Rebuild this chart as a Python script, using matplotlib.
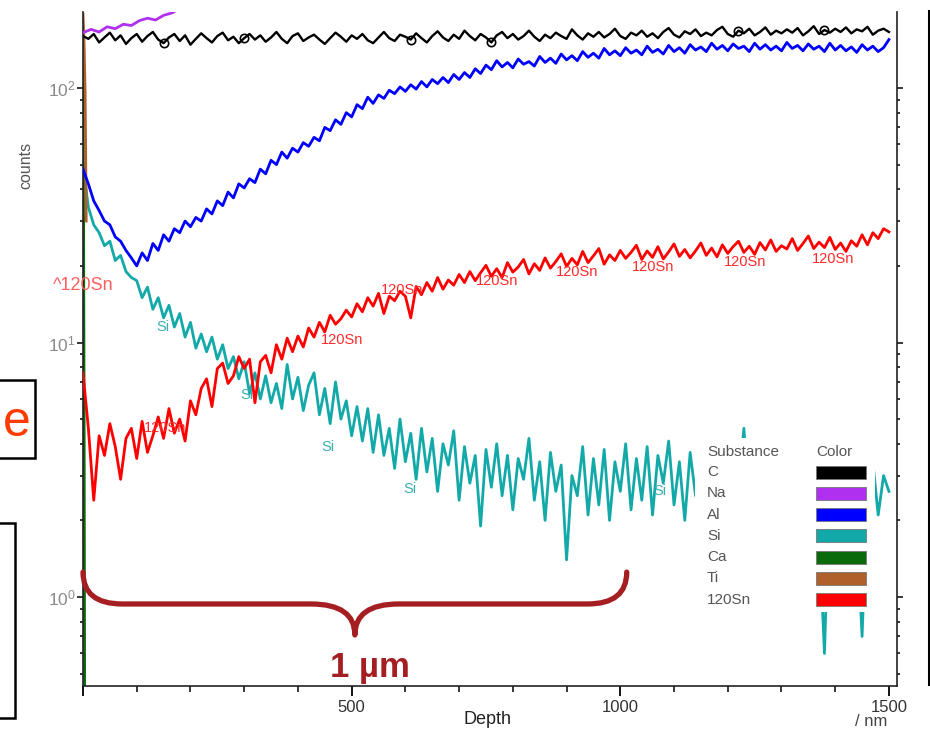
import numpy as np
import matplotlib
matplotlib.use('Agg')
import matplotlib.pyplot as plt
import matplotlib.transforms as mtransforms
from matplotlib.patches import Rectangle, PathPatch
from matplotlib.path import Path
from matplotlib.lines import Line2D
from matplotlib.ticker import MultipleLocator, NullFormatter

plt.rcParams['font.family'] = ['Liberation Sans', 'DejaVu Sans']

# Шаг по глубине, нм
step = 10

# Профили (counts), точки через 10 нм от 0 до 1500 нм
c_counts = [160, 156, 163, 151, 158, 165, 154, 161, 149, 157, 163, 152, 160, 166, 155, 150, 158, 163, 153, 161,
            148, 156, 164, 157, 151, 160, 165, 154, 159, 150, 157, 163, 155, 161, 152, 158, 166, 156, 150, 160,
            164, 153, 158, 162, 155, 149, 157, 165, 159, 152, 161, 156, 163, 154, 150, 158, 166, 157, 153, 162,
            159, 155, 164, 157, 151, 160, 167, 158, 153, 162, 156, 168, 160, 154, 163, 158, 151, 161, 166, 157,
            163, 155, 160, 168, 159, 153, 162, 157, 165, 160, 156, 170, 161, 155, 164, 159, 166, 158, 163, 171,
            160, 156, 165, 161, 168, 159, 164, 157, 166, 172, 162, 158, 167, 163, 170, 160, 165, 161, 169, 174,
            163, 159, 168, 164, 171, 161, 166, 173, 162, 168, 164, 170, 165, 172, 161, 167, 175, 163, 169, 165,
            171, 166, 173, 164, 170, 167, 174, 162, 168, 171, 166]

al_counts = [48, 42, 36, 33, 30, 29, 26, 25, 23, 21.5,
             20, 22.5, 21, 24.5, 23, 26.5, 25, 28, 27, 30,
             28.5, 31, 30, 33.5, 32, 36, 34.5, 39, 37, 42,
             40.5, 44, 42.5, 48, 46, 52, 50, 56, 53, 58,
             56, 61, 59, 64, 62, 70, 68, 75, 72, 80,
             77, 86, 83, 92, 87, 94, 91, 98, 95, 101,
             97, 103, 99, 106, 101, 108, 104, 110, 105, 113,
             108, 115, 110, 119, 114, 123, 118, 128, 121, 126,
             120, 130, 124, 127, 122, 133, 126, 131, 125, 136,
             129, 134, 128, 139, 132, 137, 131, 143, 135, 140,
             134, 144, 137, 141, 135, 146, 138, 142, 136, 147,
             139, 144, 137, 148, 141, 145, 139, 150, 142, 147,
             140, 149, 143, 146, 139, 150, 142, 148, 141, 146,
             140, 151, 143, 147, 140, 149, 142, 146, 139, 150,
             141, 147, 140, 145, 138, 148, 141, 146, 139, 144,
             155]

si_counts = [50, 34, 29, 27, 24, 25, 21, 22, 19, 18,
             17.5, 15, 16.5, 13.5, 15, 12.5, 14, 11.5, 13, 10.5,
             12, 9.5, 10.8, 9.2, 10.5, 8.6, 9.8, 7.9, 8.8, 7.2,
             8.4, 6.3, 7.6, 6.0, 7.4, 5.8, 6.9, 5.5, 8.2, 6.0,
             7.3, 5.4, 6.8, 7.6, 5.2, 6.6, 4.8, 7.0, 5.0, 5.9,
             4.3, 5.6, 4.1, 5.5, 3.7, 5.2, 3.6, 4.6, 3.2, 5.0,
             3.4, 4.4, 2.9, 4.6, 3.1, 4.2, 2.6, 4.0, 3.3, 4.5,
             2.4, 3.9, 2.8, 3.6, 1.9, 3.8, 2.7, 4.0, 2.5, 3.6,
             2.2, 3.5, 2.9, 4.2, 2.4, 3.4, 2.0, 3.7, 2.6, 3.3,
             1.4, 3.0, 2.5, 3.9, 2.1, 3.5, 2.3, 3.8, 2.0, 3.4,
             2.6, 4.0, 2.2, 3.5, 2.4, 3.9, 2.1, 3.6, 2.8, 4.1,
             2.3, 3.4, 2.0, 3.7, 2.5, 3.2, 2.2, 3.6, 2.4, 3.3,
             2.1, 3.5, 2.6, 4.6, 2.3, 3.2, 2.0, 3.4, 2.5, 3.1,
             2.2, 3.6, 2.4, 3.0, 2.1, 3.3, 2.6, 1.8, 0.6, 2.9,
             2.2, 3.2, 2.4, 3.0, 1.9, 0.7, 2.6, 3.4, 2.1, 3.0,
             2.6]

sn_counts = [7.6, 4.6, 2.4, 4.3, 3.6, 4.8, 3.9, 2.9, 4.2, 4.6,
             3.5, 4.9, 3.7, 4.3, 5.1, 4.2, 5.5, 4.4, 5.0, 4.1,
             5.9, 5.2, 6.6, 7.2, 5.6, 7.9, 8.3, 6.9, 7.4, 8.8,
             7.9, 8.6, 5.8, 8.4, 8.9, 7.6, 9.8, 8.6, 10.4, 9.2,
             10.6, 9.6, 11.4, 10.5, 12.0, 11.0, 12.8, 11.8, 12.4, 13.4,
             12.6, 14.2, 13.2, 15.0, 13.9, 15.6, 13.0, 15.2, 14.6, 15.9,
             15.2, 12.5, 16.6, 15.4, 17.2, 15.9, 18.0, 16.2, 17.6, 16.8,
             18.5, 17.2, 19.0, 17.5, 18.8, 20.1, 18.2, 19.5, 18.0, 20.6,
             18.9, 19.8, 21.2, 18.6, 20.4, 19.2, 21.5, 19.6, 20.8, 22.3,
             19.9, 21.4, 20.2, 22.8, 20.6, 21.9, 23.4, 20.3, 22.1, 21.0,
             23.0, 21.4, 22.6, 24.1, 21.2, 22.9, 21.6, 23.8, 21.3, 22.7,
             24.4, 21.8, 23.2, 21.5, 22.9, 24.6, 22.0, 23.5, 21.7, 24.2,
             22.4, 23.8, 25.0, 22.6, 23.9, 22.2, 24.7, 23.1, 25.3, 22.8,
             24.0, 23.3, 25.6, 23.0, 24.5, 26.2, 23.4, 24.8, 23.6, 25.9,
             23.2, 24.6, 22.8, 25.1, 23.9, 26.5, 24.2, 27.0, 25.6, 28.0,
             27.2]

# Короткие профили у поверхности
na_depth = [0, 15, 30, 45, 60, 75, 90, 105, 120, 135, 150, 165, 180, 200]
na_counts = [165, 170, 166, 174, 171, 178, 176, 184, 188, 185, 193, 197, 205, 215]
ca_depth = [0, 1, 2, 3]
ca_counts = [120, 35, 6, 0.45]
ti_depth = [0, 2, 4, 6]
ti_counts = [195, 150, 95, 30]

substances = ['C', 'Na', 'Al', 'Si', 'Ca', 'Ti', '120Sn']
colors = ['#000000', '#B030F0', '#0000FF', '#14A9A9', '#0B6B0B', '#B0602A', '#FF0000']

# Маркеры-кружки на кривой C
c_marks = [15, 30, 61, 76, 122, 138]

# Подписи на кривых
sn_label_depth = [153, 482, 594, 771, 919, 1061, 1232, 1396]
sn_label_counts = [4.6, 10.2, 16.1, 17.4, 18.9, 19.8, 20.7, 21.3]
si_label_depth = [149, 305, 456, 609, 1074]
si_label_counts = [11.5, 6.2, 3.9, 2.66, 2.6]

x_ticks = [0, 500, 1000, 1500]
x_tick_labels = ['', '500', '1000', '1500']

fig = plt.figure(figsize=(9.3, 7.29), dpi=100)
ax = fig.add_axes([83 / 930, 43 / 729, 814 / 930, 674 / 729])
ax.set_yscale('log')
ax.set_xlim(0, 1515)
ax.set_ylim(0.447, 198.9)


def depth_of(vals):
    return np.arange(len(vals)) * step


lw = 2.0
ax.plot(depth_of(si_counts), si_counts, color=colors[3], lw=lw, zorder=2)
ax.plot(ca_depth, ca_counts, color=colors[4], lw=lw, zorder=2)
ax.plot(ti_depth, ti_counts, color=colors[5], lw=lw, zorder=2)
ax.plot(depth_of(sn_counts), sn_counts, color=colors[6], lw=lw, zorder=3)
ax.plot(depth_of(al_counts), al_counts, color=colors[2], lw=lw, zorder=3)
ax.plot(na_depth, na_counts, color=colors[1], lw=lw, zorder=3)
ax.plot(depth_of(c_counts), c_counts, color=colors[0], lw=1.7, zorder=4,
        marker='o', markevery=c_marks, ms=6, mfc='none', mec='black', mew=1.2)

for d, v in zip(sn_label_depth, sn_label_counts):
    ax.text(d, v, '120Sn', color='#FF2A2A', fontsize=10.5, ha='center', va='center', zorder=4)
for d, v in zip(si_label_depth, si_label_counts):
    ax.text(d, v, 'Si', color='#3AAFAF', fontsize=10.5, ha='center', va='center', zorder=4)
ax.text(0, 16.8, '^120Sn', color='#FF6060', fontsize=13, ha='center', va='center', clip_on=False, zorder=4)

# Оси и деления
for side in ['left', 'right', 'bottom']:
    ax.spines[side].set_linewidth(1.2)
    ax.spines[side].set_color('#222222')
ax.spines['top'].set_visible(False)

ax.set_xticks(x_ticks)
ax.set_xticklabels(x_tick_labels)
ax.xaxis.set_minor_locator(MultipleLocator(100))
ax.yaxis.set_minor_formatter(NullFormatter())
ax.tick_params(axis='x', which='major', direction='out', length=7, width=1.3,
               labelsize=12, labelcolor='#333333', pad=3)
ax.tick_params(axis='x', which='minor', direction='out', length=4.5, width=1.1)
ax.tick_params(axis='y', which='major', direction='out', length=4.5, width=1.1,
               left=True, right=True, labelsize=12.5, labelcolor='#8a8a8a', pad=1)
ax.tick_params(axis='y', which='minor', direction='out', length=2.5, width=1.1,
               left=True, right=True)

# Таблица цветов (белая подложка закрывает кривые)
def px_ax(x, y):
    return ((x - 83) / 814, (686 - y) / 674)


ax.add_patch(Rectangle(px_ax(695, 612), 180 / 814, 174 / 674, transform=ax.transAxes,
                       facecolor='white', edgecolor='none', zorder=5, clip_on=False))
ax.text(*px_ax(707, 452), 'Substance', transform=ax.transAxes, fontsize=11, color='#555555',
        va='center', ha='left', zorder=6)
ax.text(*px_ax(816, 452), 'Color', transform=ax.transAxes, fontsize=11, color='#555555',
        va='center', ha='left', zorder=6)
for i, (name, col) in enumerate(zip(substances, colors)):
    yy = 472 + i * 21.3
    ax.text(*px_ax(707, yy), name, transform=ax.transAxes, fontsize=11, color='#555555',
            va='center', ha='left', zorder=6)
    ax.add_patch(Rectangle(px_ax(816, yy + 6.5), 50 / 814, 13 / 674, transform=ax.transAxes,
                           facecolor=col, edgecolor='#777777', lw=0.6, zorder=6, clip_on=False))

# Фигурная скобка "1 мкм"
trans = mtransforms.blended_transform_factory(ax.transData, ax.transAxes)
x0, x1, xm = 0, 1012, 506
ytop, ymid, ytip = 0.169, 0.1217, 0.0757
r1, r2 = 73, 82
verts = [(x0, ytop), (x0, ymid), (x0 + r1, ymid), (xm - r2, ymid), (xm, ymid), (xm, ytip),
         (xm, ymid), (xm + r2, ymid), (x1 - r1, ymid), (x1, ymid), (x1, ytop)]
codes = [Path.MOVETO, Path.CURVE3, Path.CURVE3, Path.LINETO, Path.CURVE3, Path.CURVE3,
         Path.CURVE3, Path.CURVE3, Path.LINETO, Path.CURVE3, Path.CURVE3]
ax.add_patch(PathPatch(Path(verts, codes), fill=False, lw=3.8, edgecolor='#A41E22',
                       transform=trans, clip_on=False, zorder=7, capstyle='round', joinstyle='round'))
ax.text(534, 0.0134, '1 µm', transform=trans, fontsize=25, fontweight='bold', color='#A41E22',
        ha='center', va='baseline', zorder=7)

# Подписи осей
fig.text(26 / 930, (729 - 165) / 729, 'counts', rotation=90, fontsize=11.5, color='#555555',
         ha='center', va='center')
fig.text(487 / 930, (729 - 720) / 729, 'Depth', fontsize=13, color='#222222', ha='center', va='center')
fig.text(871 / 930, (729 - 722) / 729, '/ nm', fontsize=12, color='#444444', ha='center', va='center')

# Элементы слайда вокруг графика
fig.add_artist(Rectangle((-0.05, (729 - 458) / 729), 35 / 930 + 0.05, 78 / 729,
                         transform=fig.transFigure, fill=False, lw=1.8, edgecolor='black'))
fig.add_artist(Rectangle((-0.05, (729 - 718) / 729), 15 / 930 + 0.05, 195 / 729,
                         transform=fig.transFigure, fill=False, lw=1.8, edgecolor='black'))
fig.text(3 / 930, (729 - 436) / 729, 'e', fontsize=36, color='#FF3B00', ha='left', va='baseline')
fig.add_artist(Line2D([929 / 930, 929 / 930], [(729 - 684) / 729, (729 - 11) / 729],
                      transform=fig.transFigure, color='black', lw=2.2))

fig.savefig('out.png', dpi=100)
